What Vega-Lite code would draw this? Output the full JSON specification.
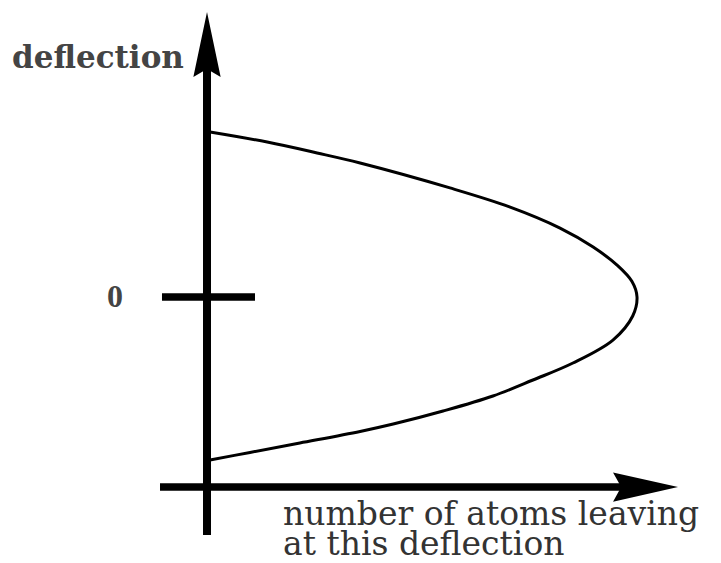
{
  "$schema": "https://vega.github.io/schema/vega-lite/v6.json",
  "width": 721,
  "height": 563,
  "autosize": {"type": "none"},
  "padding": 0,
  "background": "white",
  "config": {"view": {"stroke": null}},
  "datasets": {
    "curve": [
      {"i": 1, "atoms": 0.007, "deflection": 1.0},
      {"i": 2, "atoms": 0.14, "deflection": 0.939},
      {"i": 3, "atoms": 0.256, "deflection": 0.873},
      {"i": 4, "atoms": 0.356, "deflection": 0.812},
      {"i": 5, "atoms": 0.565, "deflection": 0.661},
      {"i": 6, "atoms": 0.705, "deflection": 0.545},
      {"i": 7, "atoms": 0.821, "deflection": 0.418},
      {"i": 8, "atoms": 0.898, "deflection": 0.303},
      {"i": 9, "atoms": 0.955, "deflection": 0.19},
      {"i": 10, "atoms": 0.988, "deflection": 0.095},
      {"i": 11, "atoms": 1.0, "deflection": 0.0},
      {"i": 12, "atoms": 0.99, "deflection": -0.115},
      {"i": 13, "atoms": 0.944, "deflection": -0.261},
      {"i": 14, "atoms": 0.851, "deflection": -0.4},
      {"i": 15, "atoms": 0.758, "deflection": -0.503},
      {"i": 16, "atoms": 0.665, "deflection": -0.6},
      {"i": 17, "atoms": 0.549, "deflection": -0.691},
      {"i": 18, "atoms": 0.433, "deflection": -0.77},
      {"i": 19, "atoms": 0.356, "deflection": -0.815},
      {"i": 20, "atoms": 0.216, "deflection": -0.885},
      {"i": 21, "atoms": 0.1, "deflection": -0.942},
      {"i": 22, "atoms": 0.007, "deflection": -0.988}
    ]
  },
  "layer": [
    {
      "data": {"values": [{"x1": 0, "x2": 0, "y1": -1.4424, "y2": 1.5576}]},
      "mark": {"type": "rule", "strokeWidth": 8, "color": "black"},
      "encoding": {
        "x": {"field": "x1", "type": "quantitative", "scale": {"domain": [-0.4814, 1.1953], "nice": false, "zero": false}, "axis": null},
        "y": {"field": "y1", "type": "quantitative", "scale": {"domain": [-1.6121, 1.8], "nice": false, "zero": false}, "axis": null},
        "y2": {"field": "y2"}
      }
    },
    {
      "data": {"values": [{"x1": -0.1093, "x2": 1.0372, "y": -1.1515}, {"x1": -0.1047, "x2": 0.1116, "y": 0}]},
      "mark": {"type": "rule", "strokeWidth": 7.5, "color": "black"},
      "encoding": {
        "x": {"field": "x1", "type": "quantitative"},
        "x2": {"field": "x2"},
        "y": {"field": "y", "type": "quantitative"}
      }
    },
    {
      "data": {"name": "curve"},
      "mark": {"type": "line", "strokeWidth": 3, "color": "black", "interpolate": "catmull-rom"},
      "encoding": {
        "x": {"field": "atoms", "type": "quantitative"},
        "y": {"field": "deflection", "type": "quantitative"},
        "order": {"field": "i", "type": "quantitative"}
      }
    },
    {
      "data": {"values": [{"x": 0, "y": 1.53}]},
      "mark": {"type": "point", "filled": true, "opacity": 1, "color": "black", "size": 4225, "shape": "M0,-1 L0.42,1 L0,0.75 L-0.42,1 Z"},
      "encoding": {
        "x": {"field": "x", "type": "quantitative"},
        "y": {"field": "y", "type": "quantitative"}
      }
    },
    {
      "data": {"values": [{"x": 1.0198, "y": -1.1515}]},
      "mark": {"type": "point", "filled": true, "opacity": 1, "color": "black", "size": 4225, "shape": "M1,0 L-1,-0.45 L-0.75,0 L-1,0.45 Z"},
      "encoding": {
        "x": {"field": "x", "type": "quantitative"},
        "y": {"field": "y", "type": "quantitative"}
      }
    },
    {
      "data": {"values": [{"x": -0.214, "y": 0, "label": "0"}]},
      "mark": {"type": "text", "font": "Liberation Serif", "fontWeight": "bold", "fontSize": 32, "color": "#444", "align": "center", "baseline": "middle"},
      "encoding": {
        "x": {"field": "x", "type": "quantitative"},
        "y": {"field": "y", "type": "quantitative"},
        "text": {"field": "label"}
      }
    },
    {
      "data": {"values": [{"x": -0.4535, "y": 1.388, "label": "deflection"}]},
      "mark": {"type": "text", "font": "DejaVu Serif", "fontWeight": "bold", "fontSize": 31, "color": "#444", "align": "left", "baseline": "alphabetic"},
      "encoding": {
        "x": {"field": "x", "type": "quantitative"},
        "y": {"field": "y", "type": "quantitative"},
        "text": {"field": "label"}
      }
    },
    {
      "data": {"values": [{"x": 0.1767, "y": -1.382, "label": "number of atoms leaving"}, {"x": 0.1767, "y": -1.564, "label": "at this deflection"}]},
      "mark": {"type": "text", "font": "DejaVu Serif", "fontSize": 33, "color": "#333", "align": "left", "baseline": "alphabetic"},
      "encoding": {
        "x": {"field": "x", "type": "quantitative"},
        "y": {"field": "y", "type": "quantitative"},
        "text": {"field": "label"}
      }
    }
  ]
}
